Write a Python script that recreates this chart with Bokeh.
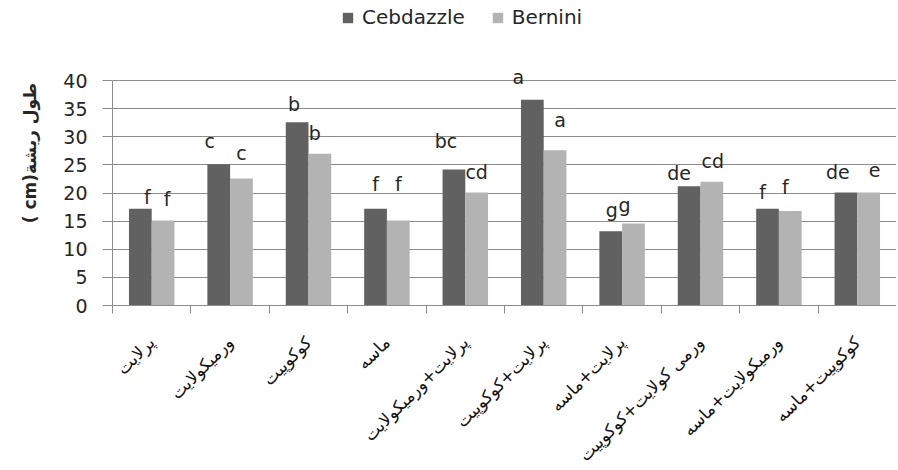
import numpy as np
from bokeh.plotting import figure
from bokeh.models import (ColumnDataSource, FixedTicker, Legend, LegendItem, Range1d, LinearAxis)
from bokeh.transform import dodge
from bokeh.core.properties import value
from bokeh.embed import file_html
from bokeh.resources import INLINE

# ---- data ----
categories = ["پرلایت", "ورمیکولایت", "کوکوپیت", "ماسه", "پرلایت+ورمیکولایت",
              "پرلایت+کوکوپیت", "پرلایت+ماسه", "ورمی کولایت+کوکوپیت",
              "ورمیکولایت+ماسه", "کوکوپیت+ماسه"]
series_names = ["Cebdazzle", "Bernini"]
cebdazzle = [17.2, 25.1, 32.6, 17.2, 24.2, 36.6, 13.2, 21.2, 17.2, 20.1]
bernini = [15.1, 22.6, 27.0, 15.1, 20.1, 27.6, 14.6, 22.0, 16.8, 20.1]
cebdazzle_letters = ["f", "c", "b", "f", "bc", "a", "g", "de", "f", "de"]
bernini_letters = ["f", "c", "b", "f", "cd", "a", "g", "cd", "f", "e"]
y_ticks = [0, 5, 10, 15, 20, 25, 30, 35, 40]
y_title = "( cm)طول ریشة"

# ---- label placement tweaks (screen px) ----
ceb_dx = [7, -9, -3, 0, -8, -14, 1, -10, -5, -8]
ceb_dy = [-12, -23, -18, -25, -28, -23, -21, -13, -17, -20]
ber_dx = [4, 0, -5, 0, 0, 5, -9, 1, -5, 6]
ber_dy = [-22, -25, -21, -37, -20, -30, -18, -21, -24, -22]

n = len(categories)
xc = np.arange(n) + 0.5
src = ColumnDataSource(dict(x=xc, ceb=cebdazzle, ber=bernini,
                            cl=cebdazzle_letters, bl=bernini_letters,
                            cdx=ceb_dx, cdy=ceb_dy, bdx=ber_dx, bdy=ber_dy))

DARK = "#616161"
LIGHT = "#b3b3b3"
GRID = "#8c8c8c"
FONT = "DejaVu Sans"

# frame spans the full top area so the legend (top) is not clipped;
# the 0..40 axis occupies the lower 225 px of it.
FRAME_H = 305
AXIS_H = 225
y_top = y_ticks[-1] * FRAME_H / AXIS_H

p = figure(frame_width=784, frame_height=FRAME_H, output_backend="svg", toolbar_location=None,
           x_range=Range1d(0, n), y_range=Range1d(0, y_top),
           x_axis_location=None, y_axis_location=None,
           min_border_left=112, min_border_right=0, min_border_top=0,
           min_border_bottom=0)
p.outline_line_color = None
p.xgrid.visible = False
p.ygrid.grid_line_color = GRID
p.ygrid.ticker = FixedTicker(ticks=y_ticks)
p.ygrid.bounds = (0, n)

bw = 0.29
r1 = p.vbar(x=dodge("x", -bw / 2, range=p.x_range), top="ceb", width=bw, source=src,
            fill_color=DARK, line_color=None)
r2 = p.vbar(x=dodge("x", bw / 2, range=p.x_range), top="ber", width=bw, source=src,
            fill_color=LIGHT, line_color=None)

p.text(x=dodge("x", -bw / 2, range=p.x_range), y="ceb", text="cl", x_offset="cdx", y_offset="cdy",
       source=src, text_align="center", text_baseline="middle",
       text_font=value(FONT), text_font_size="19px", text_color="#262626")
p.text(x=dodge("x", bw / 2, range=p.x_range), y="ber", text="bl", x_offset="bdx", y_offset="bdy",
       source=src, text_align="center", text_baseline="middle",
       text_font=value(FONT), text_font_size="19px", text_color="#262626")

# y axis
yax = LinearAxis(ticker=FixedTicker(ticks=y_ticks), bounds=(0, y_ticks[-1]))
yax.axis_line_color = GRID
yax.major_tick_line_color = GRID
yax.major_tick_out = 10
yax.major_tick_in = 0
yax.minor_tick_line_color = None
yax.major_label_standoff = 15
yax.major_label_text_font = FONT
yax.major_label_text_font_size = "19px"
yax.major_label_text_color = "#262626"
yax.axis_label = y_title
yax.axis_label_text_font = FONT
yax.axis_label_text_font_size = "17px"
yax.axis_label_text_font_style = "bold"
yax.axis_label_text_color = "#262626"
yax.axis_label_standoff = 20
p.add_layout(yax, "left")

# x axis: labels at centres, ticks at boundaries
xax = LinearAxis(ticker=FixedTicker(ticks=list(xc), minor_ticks=list(range(n + 1))))
xax.major_label_overrides = {float(x): c for x, c in zip(xc, categories)}
xax.axis_line_color = GRID
xax.major_tick_line_color = None
xax.major_tick_out = 0
xax.major_tick_in = 0
xax.minor_tick_line_color = GRID
xax.minor_tick_out = 8
xax.minor_tick_in = 0
xax.major_label_orientation = np.pi / 4
xax.major_label_standoff = 26
xax.major_label_text_font = FONT
xax.major_label_text_font_size = "17px"
xax.major_label_text_color = "#111111"
p.add_layout(xax, "below")

legend = Legend(items=[LegendItem(label=series_names[0], renderers=[r1]),
                       LegendItem(label=series_names[1], renderers=[r2])],
                location=(229, 276), orientation="horizontal",
                padding=0, margin=0, spacing=26, label_standoff=8,
                glyph_width=13, glyph_height=13,
                label_text_font=FONT, label_text_font_size="20px",
                label_text_color="#262626",
                border_line_color=None, background_fill_alpha=0)
p.add_layout(legend, "center")

open("out.html", "w").write(file_html(p, INLINE))
